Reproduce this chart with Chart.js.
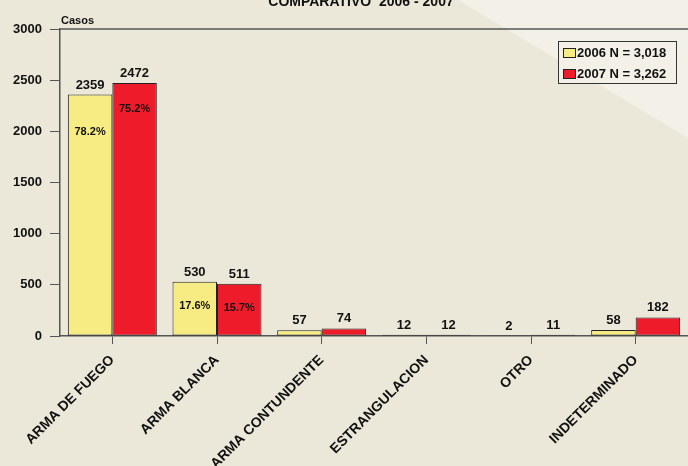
<!DOCTYPE html>
<html><head><meta charset="utf-8">
<script src="https://cdn.jsdelivr.net/npm/chart.js@4"></script>
<style>html,body{margin:0;padding:0;background:#EBE8D9;}#wrap{width:688px;height:466px;position:relative;}</style>
</head><body><div id="wrap"><canvas id="c" width="688" height="466"></canvas></div>
<script>
const categories = ["ARMA DE FUEGO","ARMA BLANCA","ARMA CONTUNDENTE","ESTRANGULACION","OTRO","INDETERMINADO"];
const values2006 = [2359,530,57,12,2,58];
const values2007 = [2472,511,74,12,11,182];
const pct2006 = ["78.2%","17.6%",null,null,null,null];
const pct2007 = ["75.2%","15.7%",null,null,null,null];
const seriesLabels = ["2006 N = 3,018","2007 N = 3,262"];
const yTicks = [0,500,1000,1500,2000,2500,3000];
const titleText = "COMPARATIVO  2006 - 2007";
const yTitle = "Casos";
const colors = ["#F7EC84","#EE1C2A"];
const FONT = "Arial, 'Liberation Sans', sans-serif";

const bgPlugin = {
  id:'bg',
  beforeDraw(chart){
    const ctx=chart.ctx;
    ctx.save();
    ctx.fillStyle='#EBE8D9';ctx.fillRect(0,0,688,466);
    ctx.fillStyle='#F3F1E7';
    ctx.beginPath();ctx.moveTo(458,0);ctx.lineTo(688,0);ctx.lineTo(688,138);ctx.closePath();ctx.fill();
    ctx.restore();
  }
};
const annot = {
  id:'annot',
  afterDatasetsDraw(chart){
    const ctx=chart.ctx;
    ctx.save();
    ctx.fillStyle='#111';
    ctx.textAlign='center';
    const pcts=[pct2006,pct2007];
    chart.data.datasets.forEach((ds,di)=>{
      const meta=chart.getDatasetMeta(di);
      meta.data.forEach((bar,i)=>{
        ctx.font='bold 13px '+FONT;
        ctx.textBaseline='alphabetic';
        ctx.fillText(String(ds.data[i]),bar.x,bar.y-6);
        const p=pcts[di][i];
        if(p){
          ctx.font='bold 11px '+FONT;
          ctx.textBaseline='middle';
          ctx.fillText(p,bar.x,bar.y+ (i===0?(di===0?37:26):24));
        }
      });
    });
    const a=chart.chartArea;
    ctx.strokeStyle='#555';ctx.lineWidth=1.5;
    ctx.beginPath();ctx.moveTo(a.left,a.top);ctx.lineTo(688,a.top);ctx.stroke();
    ctx.font='bold 14px '+FONT;ctx.textBaseline='alphabetic';ctx.textAlign='center';
    ctx.fillText(titleText,361,6);
    ctx.font='bold 11px '+FONT;ctx.textAlign='left';
    ctx.fillText(yTitle,61,24);
    const lx=558, ly=41, lw=118, lh=42;
    ctx.fillStyle='#F3F1E7';ctx.fillRect(lx,ly,lw,lh);
    ctx.strokeStyle='#333';ctx.lineWidth=1;ctx.strokeRect(lx+0.5,ly+0.5,lw,lh);
    seriesLabels.forEach((t,k)=>{
      const cy=ly+11+k*21;
      ctx.fillStyle=colors[k];ctx.fillRect(563,cy-4,12,9);
      ctx.strokeStyle='#222';ctx.strokeRect(563.5,cy-3.5,12,9);
      ctx.fillStyle='#111';ctx.font='bold 13px '+FONT;ctx.textBaseline='middle';
      ctx.fillText(t,577,cy+1);
    });
    ctx.restore();
  }
};
new Chart(document.getElementById('c'),{
  type:'bar',
  data:{labels:categories,datasets:[
    {label:seriesLabels[0],data:values2006,backgroundColor:colors[0],borderColor:'#222',borderWidth:1,borderSkipped:false,barPercentage:1,categoryPercentage:0.85},
    {label:seriesLabels[1],data:values2007,backgroundColor:colors[1],borderColor:'#222',borderWidth:1,borderSkipped:false,barPercentage:1,categoryPercentage:0.85}
  ]},
  options:{
    responsive:false,animation:false,
    layout:{padding:{top:29,right:0,left:0,bottom:0}},
    plugins:{legend:{display:false},tooltip:{enabled:false}},
    scales:{
      x:{
        grid:{offset:false,drawOnChartArea:false,drawTicks:true,tickLength:8,color:'#555'},
        border:{color:'#555',width:1.5},
        ticks:{color:'#111',font:{family:FONT,size:14,weight:'bold'},maxRotation:45,minRotation:45,padding:8},
        afterFit(s){s.height=130;}
      },
      y:{
        min:0,max:3000,
        afterBuildTicks(s){s.ticks=yTicks.map(v=>({value:v}));},
        grid:{drawOnChartArea:false,drawTicks:true,tickLength:10,color:'#555'},
        border:{color:'#555',width:1.5},
        ticks:{color:'#111',font:{family:FONT,size:13,weight:'bold'},padding:8,callback:v=>String(v)},
        afterFit(s){s.width=60;}
      }
    }
  },
  plugins:[bgPlugin,annot]
});
</script></body></html>
